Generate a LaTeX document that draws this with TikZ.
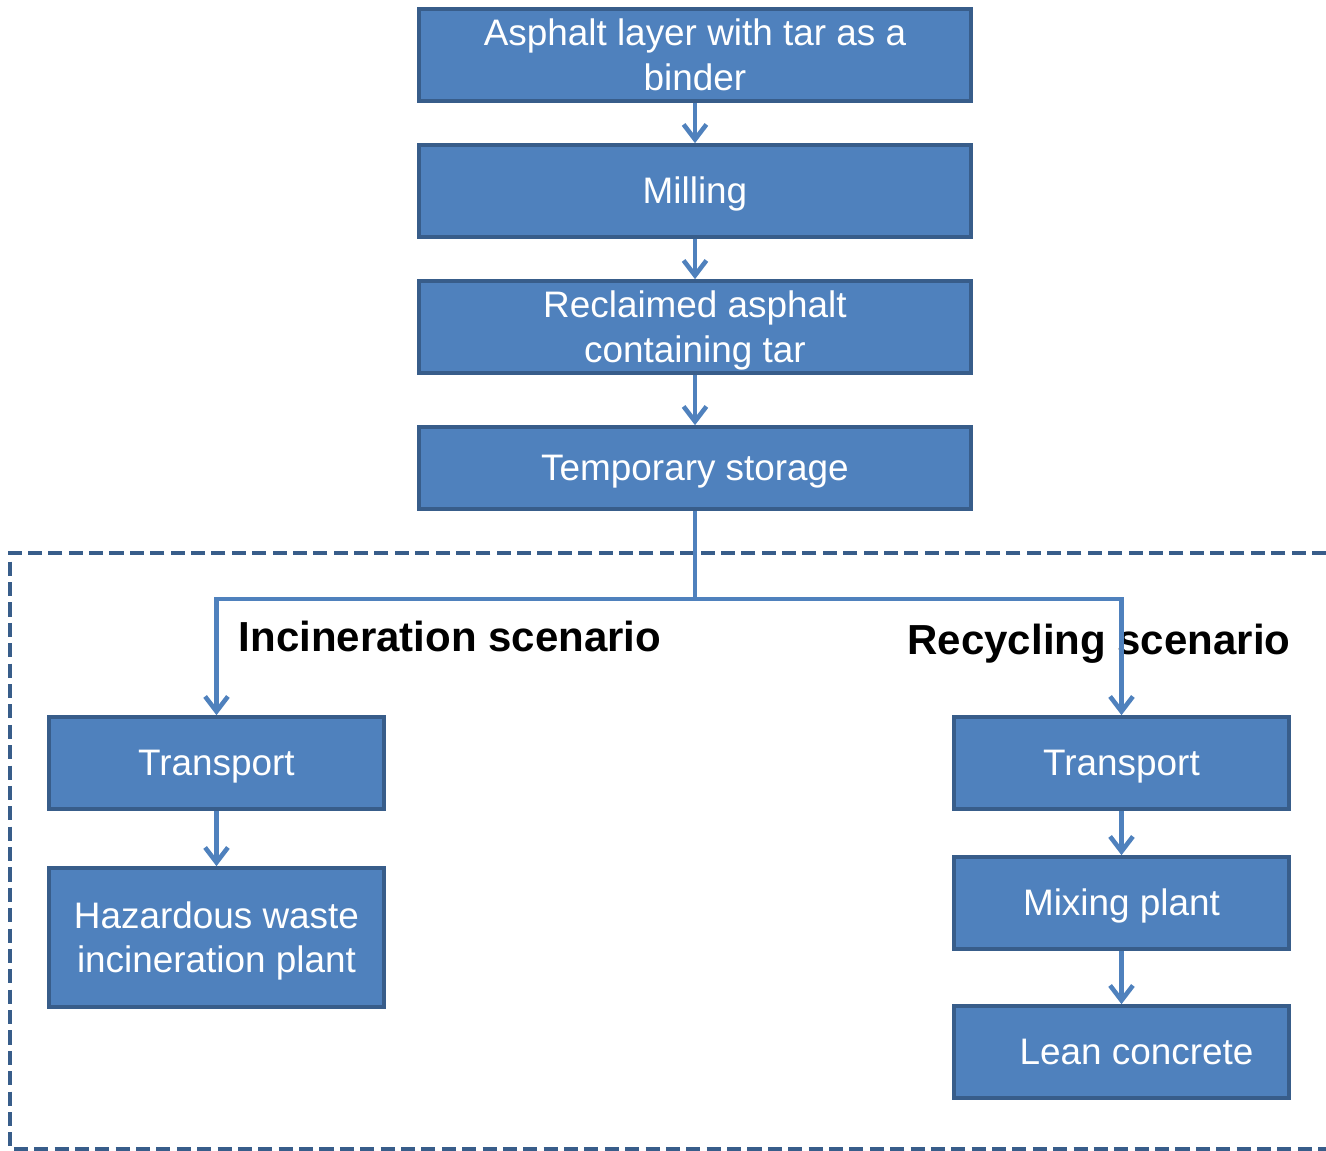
\documentclass[tikz,border=0pt]{standalone}
\usepackage{fontspec}
\setmainfont{Liberation Sans}
\usepackage{tikz}
\usetikzlibrary{arrows.meta}

\definecolor{boxfill}{HTML}{4F81BD}
\definecolor{boxline}{HTML}{385D8A}

% lower the text a little inside its box, box size unchanged
\newcommand{\boxtext}[1]{\raisebox{-0.08cm}[\height][\depth]{\begin{tabular}{@{}c@{}}#1\end{tabular}}}

\begin{document}
\begin{tikzpicture}[x=0.02cm,y=-0.02cm,
    stagebox/.style={draw=boxline,line width=2.1pt,fill=boxfill,text=white,
        inner sep=0pt,font=\fontsize{21}{25.5}\selectfont},
    wide/.style={stagebox,minimum width=11.04cm,minimum height=1.84cm},
    narrow/.style={stagebox,minimum width=6.7cm,minimum height=1.84cm},
    flow/.style={draw=boxfill,line width=2.6pt,-{Straight Barb[length=8.5pt,width=13pt,line width=2.6pt]}},
    scenario/.style={font=\fontsize{23.9}{28}\selectfont\bfseries}]
    \useasboundingbox (0,0) rectangle (1326,1151);

    % scenario frame
    \draw[boxline,line width=2.4pt,dash pattern=on 8pt off 3.6pt] (1326,553) -- (10,553) -- (10,1149) -- (1326,1149);

    % main chain
    \node[wide] (asphalt) at (695,55) {\boxtext{Asphalt layer with tar as a\\binder}};
    \node[wide] (milling) at (695,191) {\boxtext{Milling}};
    \node[wide] (reclaimed) at (695,327) {\boxtext{Reclaimed asphalt\\containing tar}};
    \node[wide,minimum height=1.64cm] (storage) at (695,468) {\boxtext{Temporary storage}};

    \draw[flow] (asphalt) -- (milling);
    \draw[flow] (milling) -- (reclaimed);
    \draw[flow] (reclaimed) -- (storage);

    % incineration
    \node[narrow] (transportA) at (216.5,763) {\boxtext{Transport}};
    \node[narrow,minimum height=2.78cm] (hazard) at (216.5,937.5) {\boxtext{Hazardous waste\\incineration plant}};
    \node[scenario] (incin) at (450,636) {Incineration scenario};

    % recycling
    \node[narrow] (transportB) at (1121.5,763) {\boxtext{Transport}};
    \node[narrow] (mixing) at (1121.5,903) {\boxtext{Mixing plant}};
    \node[narrow] (lean) at (1121.5,1052) {\boxtext{\hspace*{0.6cm}Lean concrete}};
    \node[scenario] (recyc) at (1099,644) {Recycling scenario};

    \coordinate (split) at (695,599);
    \draw[boxfill,line width=2.6pt] (storage.south) -- (split);
    \draw[flow] (split) -| (transportA.north);
    \draw[flow] (split) -| (transportB.north);
    \draw[flow] (transportA) -- (hazard);
    \draw[flow] (transportB) -- (mixing);
    \draw[flow] (mixing) -- (lean);
\end{tikzpicture}
\end{document}
